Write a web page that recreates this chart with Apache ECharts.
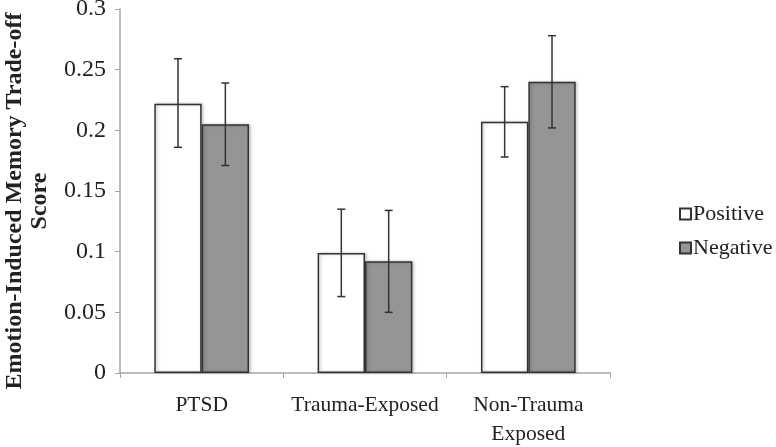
<!DOCTYPE html>
<html>
<head>
<meta charset="utf-8">
<script src="https://cdn.jsdelivr.net/npm/echarts@6/dist/echarts.min.js"></script>
<style>html,body{margin:0;padding:0;background:#fff}#c{width:776px;height:447px}</style>
</head>
<body>
<div id="c"></div>
<script>
var categories = ['PTSD', 'Trauma-Exposed', 'Non-Trauma\nExposed'];
var positive = [0.222, 0.099, 0.207];
var negative = [0.205, 0.092, 0.240];
var positiveLow = [0.186, 0.063, 0.178];
var positiveHigh = [0.259, 0.135, 0.236];
var negativeLow = [0.171, 0.050, 0.202];
var negativeHigh = [0.239, 0.134, 0.278];
var yTicks = [0, 0.05, 0.1, 0.15, 0.2, 0.25, 0.3];
var yTitle = 'Emotion-Induced Memory Trade-off\nScore';

var FONT = '"Liberation Serif", "Times New Roman", serif';
var CAT_GAP = 0.42;

var errData = [];
for (var i = 0; i < categories.length; i++) {
  errData.push([i, positiveLow[i], positiveHigh[i], 0]);
  errData.push([i, negativeLow[i], negativeHigh[i], 1]);
}

function renderErr(params, api) {
  var idx = api.value(0);
  var lo = api.coord([idx, api.value(1)]);
  var hi = api.coord([idx, api.value(2)]);
  var band = api.size([1, 0])[0];
  var bw = band * (1 - CAT_GAP) / 2;
  var off = api.value(3) === 0 ? -bw / 2 : bw / 2;
  var x = lo[0] + off;
  var cap = 4;
  var st = { stroke: '#333', lineWidth: 1.5 };
  return {
    type: 'group',
    children: [
      { type: 'line', shape: { x1: x, y1: lo[1], x2: x, y2: hi[1] }, style: st },
      { type: 'line', shape: { x1: x - cap, y1: lo[1], x2: x + cap, y2: lo[1] }, style: st },
      { type: 'line', shape: { x1: x - cap, y1: hi[1], x2: x + cap, y2: hi[1] }, style: st }
    ]
  };
}

var chart = echarts.init(document.getElementById('c'), null, { renderer: 'canvas' });
chart.setOption({
  animation: false,
  backgroundColor: '#fff',
  grid: { left: 120, right: 166, top: 9, bottom: 74, containLabel: false, outerBoundsMode: 'none' },
  graphic: [{
    type: 'text',
    x: 27, y: 201,
    rotation: Math.PI / 2,
    style: {
      text: yTitle,
      fontFamily: FONT, fontSize: 24, fontWeight: 'bold', fill: '#222',
      lineHeight: 25, align: 'center', verticalAlign: 'middle'
    }
  }],
  legend: {
    data: ['Positive', 'Negative'],
    orient: 'vertical',
    left: 674,
    top: 198,
    itemWidth: 11,
    itemHeight: 11,
    itemGap: 12,
    icon: 'rect',
    textStyle: { fontFamily: FONT, fontSize: 22, color: '#222', padding: [0, 0, 0, -3] }
  },
  xAxis: {
    type: 'category',
    data: categories,
    axisLine: { lineStyle: { color: '#a6a6a6', width: 1.5 } },
    axisTick: { show: true, length: 5, lineStyle: { color: '#a6a6a6' } },
    axisLabel: { interval: 0, fontFamily: FONT, fontSize: 21.5, color: '#222', margin: 18, lineHeight: 29 }
  },
  yAxis: {
    type: 'value',
    min: 0,
    max: 0.3,
    interval: 0.05,
    axisLine: { show: true, lineStyle: { color: '#a6a6a6', width: 1.5 } },
    axisTick: { show: true, length: 5, lineStyle: { color: '#a6a6a6' } },
    splitLine: { show: false },
    axisLabel: {
      fontFamily: FONT, fontSize: 24, color: '#222', margin: 14,
      formatter: function (v) {
        for (var k = 0; k < yTicks.length; k++) { if (Math.abs(yTicks[k] - v) < 1e-9) return String(yTicks[k]); }
        return '';
      }
    }
  },
  series: [
    {
      name: 'Positive', type: 'bar', data: positive,
      barGap: '0%', barCategoryGap: (CAT_GAP * 100) + '%',
      itemStyle: { color: '#ffffff', borderColor: '#333', borderWidth: 1.5,
        shadowColor: 'rgba(0,0,0,0.25)', shadowBlur: 3, shadowOffsetX: 1.5 }
    },
    {
      name: 'Negative', type: 'bar', data: negative,
      barGap: '0%', barCategoryGap: (CAT_GAP * 100) + '%',
      itemStyle: { color: '#959595', borderColor: '#333', borderWidth: 1.5,
        shadowColor: 'rgba(0,0,0,0.25)', shadowBlur: 3, shadowOffsetX: 1.5 }
    },
    {
      type: 'custom', renderItem: renderErr, data: errData, z: 10,
      encode: { x: 0, y: [1, 2] }, silent: true
    }
  ]
});
</script>
</body>
</html>
